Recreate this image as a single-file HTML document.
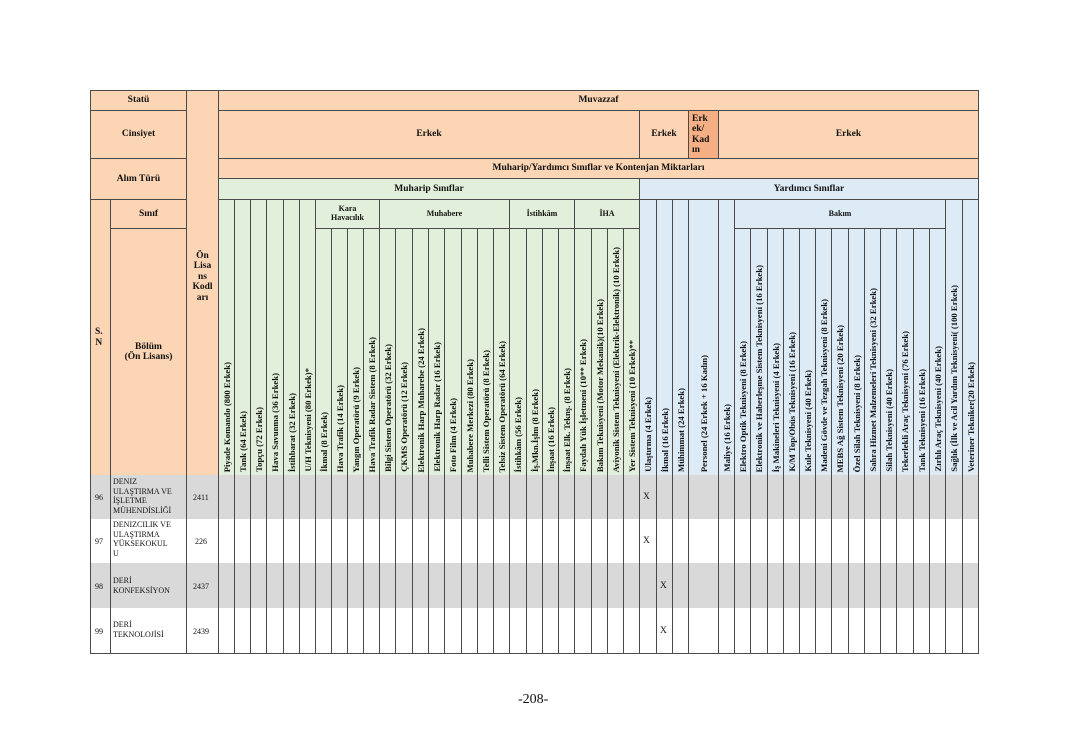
<!DOCTYPE html>
<html><head><meta charset="utf-8">
<style>
body{margin:0;background:#fff;}
#p{position:relative;width:1068px;height:755px;overflow:hidden;background:#fff;font-family:"Liberation Serif",serif;color:#111;}
.c{position:absolute;box-sizing:border-box;border:1px solid #4a4a4a;display:flex;align-items:center;justify-content:center;text-align:center;font-weight:bold;font-size:9.5px;line-height:1.1;}
.o{background:#fcd5b4}.k{background:#f4b084}.g{background:#e2efda}.b{background:#ddebf7}
.v{position:absolute;bottom:3px;left:50%;margin-left:-5px;writing-mode:vertical-rl;transform:rotate(180deg);white-space:nowrap;font-size:8.7px;font-weight:bold;line-height:10px;}
.r{position:absolute;left:90px;width:889px;box-sizing:border-box;border-bottom:1px solid #4a4a4a;}
.vl{position:absolute;top:475px;height:179px;width:1px;background:#4a4a4a;}
.t{position:absolute;font-size:8px;line-height:9.5px;font-weight:normal;}
.x{position:absolute;font-size:9.5px;}
</style></head><body><div id="p">
<div class="c o" style="left:90px;top:90px;width:97px;height:21px">Statü</div>
<div class="c o" style="left:90px;top:110px;width:97px;height:49px">Cinsiyet</div>
<div class="c o" style="left:90px;top:158px;width:97px;height:42px">Alım Türü</div>
<div class="c o" style="left:90px;top:199px;width:21px;height:277px;justify-content:flex-start;padding-left:4px">S.<br>N</div>
<div class="c o" style="left:110px;top:199px;width:77px;height:30px">Sınıf</div>
<div class="c o" style="left:110px;top:228px;width:77px;height:248px">Bölüm<br>(Ön Lisans)</div>
<div class="c o" style="left:186px;top:90px;width:33px;height:386px;align-items:flex-start;padding-top:160px">Ön<br>Lisa<br>ns<br>Kodl<br>arı</div>
<div class="c o" style="left:218px;top:90px;width:761px;height:21px">Muvazzaf</div>
<div class="c o" style="left:218px;top:110px;width:422px;height:49px">Erkek</div>
<div class="c o" style="left:639px;top:110px;width:50px;height:49px">Erkek</div>
<div class="c k" style="left:688px;top:110px;width:31px;height:49px;justify-content:flex-start;text-align:left;padding-left:3px">Erk<br>ek/<br>Kad<br>ın</div>
<div class="c o" style="left:718px;top:110px;width:261px;height:49px">Erkek</div>
<div class="c o" style="left:218px;top:158px;width:761px;height:21px">Muharip/Yardımcı Sınıflar ve Kontenjan Miktarları</div>
<div class="c g" style="left:218px;top:178px;width:422px;height:22px">Muharip Sınıflar</div>
<div class="c b" style="left:639px;top:178px;width:340px;height:22px">Yardımcı Sınıflar</div>
<div class="c g" style="left:315px;top:199px;width:65px;height:30px;font-size:8px">Kara<br>Havacılık</div>
<div class="c g" style="left:379px;top:199px;width:131px;height:30px;font-size:8px">Muhabere</div>
<div class="c g" style="left:509px;top:199px;width:66px;height:30px;font-size:8px">İstihkâm</div>
<div class="c g" style="left:574px;top:199px;width:66px;height:30px;font-size:8px">İHA</div>
<div class="c b" style="left:734px;top:199px;width:212px;height:30px;font-size:8px">Bakım</div>
<div class="c g" style="left:218px;top:199px;width:17px;height:277px"><span class="v">Piyade Komando (800 Erkek)</span></div>
<div class="c g" style="left:234px;top:199px;width:17px;height:277px"><span class="v">Tank (64 Erkek)</span></div>
<div class="c g" style="left:250px;top:199px;width:17px;height:277px"><span class="v">Topçu (72 Erkek)</span></div>
<div class="c g" style="left:266px;top:199px;width:18px;height:277px"><span class="v">Hava Savunma (36 Erkek)</span></div>
<div class="c g" style="left:283px;top:199px;width:17px;height:277px"><span class="v">İstihbarat (32 Erkek)</span></div>
<div class="c g" style="left:299px;top:199px;width:17px;height:277px"><span class="v">U/H Teknisyeni (80 Erkek)*</span></div>
<div class="c g" style="left:315px;top:228px;width:17px;height:248px"><span class="v">İkmal (8 Erkek)</span></div>
<div class="c g" style="left:331px;top:228px;width:17px;height:248px"><span class="v">Hava Trafik (14 Erkek)</span></div>
<div class="c g" style="left:347px;top:228px;width:17px;height:248px"><span class="v">Yangın Operatörü (9 Erkek)</span></div>
<div class="c g" style="left:363px;top:228px;width:17px;height:248px"><span class="v">Hava Trafik Radar Sistem (8 Erkek)</span></div>
<div class="c g" style="left:379px;top:228px;width:17px;height:248px"><span class="v">Bilgi Sistem Operatörü (32 Erkek)</span></div>
<div class="c g" style="left:395px;top:228px;width:18px;height:248px"><span class="v">ÇKMS Operatörü (12 Erkek)</span></div>
<div class="c g" style="left:412px;top:228px;width:17px;height:248px"><span class="v">Elektronik Harp Muharebe (24 Erkek)</span></div>
<div class="c g" style="left:428px;top:228px;width:17px;height:248px"><span class="v">Elektronik Harp Radar (16 Erkek)</span></div>
<div class="c g" style="left:444px;top:228px;width:18px;height:248px"><span class="v">Foto Film (4 Erkek)</span></div>
<div class="c g" style="left:461px;top:228px;width:17px;height:248px"><span class="v">Muhabere Merkezi (80 Erkek)</span></div>
<div class="c g" style="left:477px;top:228px;width:17px;height:248px"><span class="v">Telli Sistem Operatörü (8 Erkek)</span></div>
<div class="c g" style="left:493px;top:228px;width:17px;height:248px"><span class="v">Telsiz Sistem Operatörü (64 Erkek)</span></div>
<div class="c g" style="left:509px;top:228px;width:18px;height:248px"><span class="v">İstihkâm (56 Erkek)</span></div>
<div class="c g" style="left:526px;top:228px;width:17px;height:248px"><span class="v">İş.Mkn.İşlm (8 Erkek)</span></div>
<div class="c g" style="left:542px;top:228px;width:17px;height:248px"><span class="v">İnşaat (16 Erkek)</span></div>
<div class="c g" style="left:558px;top:228px;width:17px;height:248px"><span class="v">İnşaat Elk. Teknş. (8 Erkek)</span></div>
<div class="c g" style="left:574px;top:228px;width:18px;height:248px"><span class="v">Faydalı Yük İşletmeni (10** Erkek)</span></div>
<div class="c g" style="left:591px;top:228px;width:17px;height:248px"><span class="v">Bakım Teknisyeni (Motor Mekanik)(10 Erkek)</span></div>
<div class="c g" style="left:607px;top:228px;width:17px;height:248px"><span class="v">Aviyonik Sistem Teknisyeni (Elektrik-Elektronik) (10 Erkek)</span></div>
<div class="c g" style="left:623px;top:228px;width:17px;height:248px"><span class="v">Yer Sistem Teknisyeni (10 Erkek)**</span></div>
<div class="c b" style="left:639px;top:199px;width:18px;height:277px"><span class="v">Ulaştırma (4 Erkek)</span></div>
<div class="c b" style="left:656px;top:199px;width:17px;height:277px"><span class="v">İkmal (16 Erkek)</span></div>
<div class="c b" style="left:672px;top:199px;width:17px;height:277px"><span class="v">Mühimmat (24 Erkek)</span></div>
<div class="c b" style="left:688px;top:199px;width:31px;height:277px"><span class="v">Personel (24 Erkek + 16 Kadın)</span></div>
<div class="c b" style="left:718px;top:199px;width:17px;height:277px"><span class="v">Maliye (16 Erkek)</span></div>
<div class="c b" style="left:734px;top:228px;width:17px;height:248px"><span class="v">Elektro Optik Teknisyeni (8 Erkek)</span></div>
<div class="c b" style="left:750px;top:228px;width:18px;height:248px"><span class="v">Elektronik ve Haberleşme Sistem Teknisyeni (16 Erkek)</span></div>
<div class="c b" style="left:767px;top:228px;width:17px;height:248px"><span class="v">İş Makineleri Teknisyeni (4 Erkek)</span></div>
<div class="c b" style="left:783px;top:228px;width:17px;height:248px"><span class="v">K/M Top/Obüs Teknisyeni (16 Erkek)</span></div>
<div class="c b" style="left:799px;top:228px;width:17px;height:248px"><span class="v">Kule Teknisyeni (40 Erkek)</span></div>
<div class="c b" style="left:815px;top:228px;width:17px;height:248px"><span class="v">Madeni Gövde ve Tezgah Teknisyeni (8 Erkek)</span></div>
<div class="c b" style="left:831px;top:228px;width:18px;height:248px"><span class="v">MEBS Ağ Sistem Teknisyeni (20 Erkek)</span></div>
<div class="c b" style="left:848px;top:228px;width:17px;height:248px"><span class="v">Özel Silah Teknisyeni (8 Erkek)</span></div>
<div class="c b" style="left:864px;top:228px;width:17px;height:248px"><span class="v">Sahra Hizmet Malzemeleri Teknisyeni (32 Erkek)</span></div>
<div class="c b" style="left:880px;top:228px;width:17px;height:248px"><span class="v">Silah Teknisyeni (40 Erkek)</span></div>
<div class="c b" style="left:896px;top:228px;width:18px;height:248px"><span class="v">Tekerlekli Araç Teknisyeni (76 Erkek)</span></div>
<div class="c b" style="left:913px;top:228px;width:17px;height:248px"><span class="v">Tank Teknisyeni (16 Erkek)</span></div>
<div class="c b" style="left:929px;top:228px;width:17px;height:248px"><span class="v">Zırhlı Araç Teknisyeni (40 Erkek)</span></div>
<div class="c b" style="left:945px;top:199px;width:18px;height:277px"><span class="v">Sağlık (İlk ve Acil Yardım Teknisyeni( (100 Erkek)</span></div>
<div class="c b" style="left:962px;top:199px;width:17px;height:277px"><span class="v">Veteriner Tekniker(20 Erkek)</span></div>
<div class="r" style="top:475px;height:45px;background:#d9d9d9"></div>
<div class="r" style="top:519px;height:45px;background:#fff"></div>
<div class="r" style="top:563px;height:46px;background:#d9d9d9"></div>
<div class="r" style="top:608px;height:46px;background:#fff"></div>
<div class="vl" style="left:90px"></div><div class="vl" style="left:110px"></div><div class="vl" style="left:186px"></div>
<div class="vl" style="left:218px"></div><div class="vl" style="left:234px"></div><div class="vl" style="left:250px"></div><div class="vl" style="left:266px"></div><div class="vl" style="left:283px"></div><div class="vl" style="left:299px"></div><div class="vl" style="left:315px"></div><div class="vl" style="left:331px"></div><div class="vl" style="left:347px"></div><div class="vl" style="left:363px"></div><div class="vl" style="left:379px"></div><div class="vl" style="left:395px"></div><div class="vl" style="left:412px"></div><div class="vl" style="left:428px"></div><div class="vl" style="left:444px"></div><div class="vl" style="left:461px"></div><div class="vl" style="left:477px"></div><div class="vl" style="left:493px"></div><div class="vl" style="left:509px"></div><div class="vl" style="left:526px"></div><div class="vl" style="left:542px"></div><div class="vl" style="left:558px"></div><div class="vl" style="left:574px"></div><div class="vl" style="left:591px"></div><div class="vl" style="left:607px"></div><div class="vl" style="left:623px"></div><div class="vl" style="left:639px"></div><div class="vl" style="left:656px"></div><div class="vl" style="left:672px"></div><div class="vl" style="left:688px"></div><div class="vl" style="left:718px"></div><div class="vl" style="left:734px"></div><div class="vl" style="left:750px"></div><div class="vl" style="left:767px"></div><div class="vl" style="left:783px"></div><div class="vl" style="left:799px"></div><div class="vl" style="left:815px"></div><div class="vl" style="left:831px"></div><div class="vl" style="left:848px"></div><div class="vl" style="left:864px"></div><div class="vl" style="left:880px"></div><div class="vl" style="left:896px"></div><div class="vl" style="left:913px"></div><div class="vl" style="left:929px"></div><div class="vl" style="left:945px"></div><div class="vl" style="left:962px"></div><div class="vl" style="left:978px"></div>
<div class="t" style="left:95px;top:493px">96</div>
<div class="t" style="left:113px;top:477px">DENIZ<br>ULAŞTIRMA VE<br>İŞLETME<br>MÜHENDİSLİĞİ</div>
<div class="t" style="left:193px;top:493px">2411</div>
<div class="x" style="left:643px;top:492px">X</div>
<div class="t" style="left:95px;top:537px">97</div>
<div class="t" style="left:113px;top:520px">DENIZCILIK VE<br>ULAŞTIRMA<br>YÜKSEKOKUL<br>U</div>
<div class="t" style="left:195px;top:537px">226</div>
<div class="x" style="left:643px;top:536px">X</div>
<div class="t" style="left:95px;top:582px">98</div>
<div class="t" style="left:113px;top:576px">DERİ<br>KONFEKSİYON</div>
<div class="t" style="left:193px;top:582px">2437</div>
<div class="x" style="left:660px;top:581px">X</div>
<div class="t" style="left:95px;top:627px">99</div>
<div class="t" style="left:113px;top:620px">DERİ<br>TEKNOLOJİSİ</div>
<div class="t" style="left:193px;top:627px">2439</div>
<div class="x" style="left:660px;top:626px">X</div>
<div style="position:absolute;left:518px;top:692px;font-size:14px">-208-</div>
</div></body></html>
